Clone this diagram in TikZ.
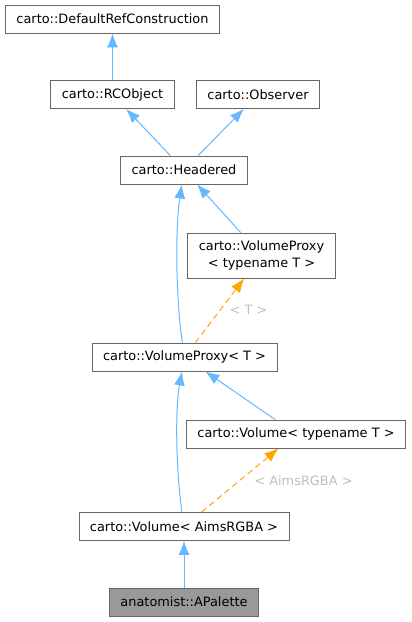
\documentclass[tikz,border=0pt]{standalone}
\usepackage{fontspec}
\setmainfont{DejaVu Sans}
\usetikzlibrary{arrows.meta}
\definecolor{edgeblue}{HTML}{63B8FF}
\definecolor{edgeorange}{HTML}{FFA500}
\definecolor{boxgray}{HTML}{666666}
\definecolor{focusgray}{HTML}{999999}
\definecolor{labelgray}{HTML}{BFBFBF}
\tikzset{cls/.style = {rectangle, draw=boxgray, fill=white, line width=0.9pt, text=black,
                       inner xsep=11pt, inner ysep=0pt, minimum height=28pt, align=center,
                       font=\fontsize{12.9}{17}\selectfont}}
\tikzset{focus/.style = {cls, fill=focusgray}}
\tikzset{inherit/.style = {draw=edgeblue, line width=1pt, -{Latex[length=14pt, width=11pt]}}}
\tikzset{tmpl/.style = {draw=edgeorange, line width=1pt, dash pattern=on 6pt off 4pt,
                        -{Latex[length=14pt, width=11pt]}}}
\tikzset{tlabel/.style = {text=labelgray, inner sep=0pt, font=\fontsize{12.9}{17}\selectfont}}

\begin{document}
\begin{tikzpicture}[x=1pt, y=-1pt]
    \useasboundingbox (0, 0) rectangle (412, 622);

    \node [cls] (1) at (112.5, 19) {carto::DefaultRefConstruction};
    \node [cls] (2) at (112.5, 94.5) {carto::RCObject};
    \node [cls] (3) at (258, 94.5) {carto::Observer};
    \node [cls] (4) at (184, 170) {carto::Headered};
    \node [cls, minimum height=45pt] (5) at (261.5, 255.5) {carto::VolumeProxy\\< typename T >};
    \node [cls] (6) at (184.5, 357) {carto::VolumeProxy< T >};
    \node [cls] (7) at (296, 434) {carto::Volume< typename T >};
    \node [cls] (8) at (184, 526.5) {carto::Volume< AimsRGBA >};
    \node [focus] (9) at (184, 602) {anatomist::APalette};

    \node [tlabel] (l1) at (248.5, 310) {< T >};
    \node [tlabel] (l2) at (303.5, 481) {< AimsRGBA >};

    \draw [inherit] (2) -- (1);
    \draw [inherit] (4) -- (2);
    \draw [inherit] (4) -- (3);
    \draw [inherit] (5) -- (4);
    \draw [inherit] (6) .. controls (176, 300) and (175, 230) .. (4);
    \draw [tmpl] (6) -- (5);
    \draw [inherit] (7) -- (6);
    \draw [inherit] (8) .. controls (176, 470) and (175, 410) .. (6);
    \draw [tmpl] (8) -- (7);
    \draw [inherit] (9) -- (8);
\end{tikzpicture}
\end{document}
